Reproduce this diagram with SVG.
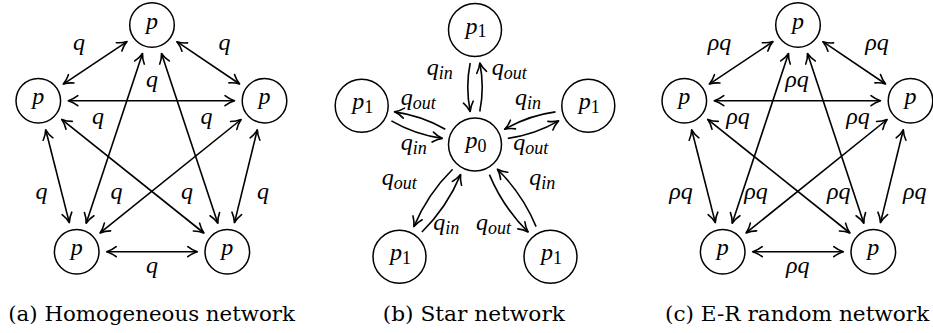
<svg xmlns="http://www.w3.org/2000/svg" width="933" height="333" viewBox="0 0 933 333">
<style>
.n{fill:#fff;stroke:#000;stroke-width:1.5}
.e{fill:none;stroke:#000;stroke-width:1.6;marker-end:url(#ah)}
.d{marker-start:url(#ah)}
.c{text-anchor:middle}
.m{font-family:"Liberation Serif","Times New Roman",serif;font-style:italic;font-size:24px;fill:#000}
.s{font-size:18px}
.u{font-style:normal;font-size:18px}
.cap{font-family:"DejaVu Serif","Liberation Serif",serif;font-size:19.5px;fill:#000}
</style>
<defs>
<marker id="ah" markerUnits="userSpaceOnUse" markerWidth="14" markerHeight="14" viewBox="-12 -7 14 14" refX="0" refY="0" orient="auto-start-reverse" overflow="visible">
<path d="M-9.5,-5 C-6,-2.2 -2,-0.6 0,0 C-2,0.6 -6,2.2 -9.5,5" fill="none" stroke="#000" stroke-width="1.6" stroke-linecap="round" stroke-linejoin="round"/>
</marker>
</defs>
<rect width="933" height="333" fill="#fff"/>

<g id="connectors">
<g id="edges-a">
<line class="e d" x1="127.0" y1="41.6" x2="63.3" y2="84.1"/>
<line class="e d" x1="176.9" y1="41.7" x2="239.6" y2="84.0"/>
<line class="e d" x1="68.3" y1="100.7" x2="234.5" y2="100.7"/>
<line class="e d" x1="142.5" y1="53.5" x2="86.2" y2="223.2"/>
<line class="e d" x1="161.5" y1="53.5" x2="217.8" y2="223.2"/>
<line class="e d" x1="45.7" y1="129.8" x2="69.3" y2="222.6"/>
<line class="e d" x1="257.3" y1="129.8" x2="234.5" y2="222.6"/>
<line class="e d" x1="61.7" y1="119.4" x2="203.9" y2="233.0"/>
<line class="e d" x1="241.1" y1="119.5" x2="100.1" y2="232.9"/>
<line class="e d" x1="106.7" y1="251.7" x2="197.3" y2="251.7"/>
</g>
<g id="edges-b">
<path class="e" d="M470.2,63 Q465.3,87.25 470.2,111.5"/>
<path class="e" d="M479.8,111.5 Q484.7,87.25 479.8,63"/>
<path class="e" d="M445.3,129.3 Q421.6,115.5 394.5,111.85"/>
<path class="e" d="M391.4,120.9 Q415.1,134.7 442.2,138.35"/>
<path class="e" d="M507.8,138.35 Q534.9,134.7 558.6,120.9"/>
<path class="e" d="M555.5,111.85 Q528.4,115.5 504.7,129.3"/>
<path class="e" d="M452.6,169.2 Q427.5,194.0 413.9,226.6"/>
<path class="e" d="M421.9,232.0 Q447.0,207.2 460.6,174.6"/>
<path class="e" d="M489.4,174.6 Q503.0,207.2 528.1,232.0"/>
<path class="e" d="M536.1,226.6 Q522.5,194.0 497.4,169.2"/>
</g>
<g id="edges-c">
<line class="e d" x1="773.0" y1="41.6" x2="709.3" y2="84.1"/>
<line class="e d" x1="822.9" y1="41.7" x2="885.6" y2="84.0"/>
<line class="e d" x1="714.3" y1="100.7" x2="880.5" y2="100.7"/>
<line class="e d" x1="788.5" y1="53.5" x2="732.2" y2="223.2"/>
<line class="e d" x1="807.5" y1="53.5" x2="863.8" y2="223.2"/>
<line class="e d" x1="691.7" y1="129.8" x2="715.3" y2="222.6"/>
<line class="e d" x1="903.3" y1="129.8" x2="880.5" y2="222.6"/>
<line class="e d" x1="707.7" y1="119.4" x2="849.9" y2="233.0"/>
<line class="e d" x1="887.1" y1="119.5" x2="746.1" y2="232.9"/>
<line class="e d" x1="752.7" y1="251.7" x2="843.3" y2="251.7"/>
</g>
<g id="edge-labels-a" class="m c">
<text x="79" y="50">q</text>
<text x="224.5" y="50">q</text>
<text x="152" y="87">q</text>
<text x="98" y="124">q</text>
<text x="206.5" y="124">q</text>
<text x="41.5" y="198.5">q</text>
<text x="116.5" y="198.5">q</text>
<text x="187" y="199">q</text>
<text x="263" y="199">q</text>
<text x="152" y="272.5">q</text>
</g>
<g id="edge-labels-b" class="m">
<text x="426.7" y="75">q<tspan class="s" dy="3.5">in</tspan></text>
<text x="491.7" y="75">q<tspan class="s" dy="3.5">out</tspan></text>
<text x="400.7" y="105">q<tspan class="s" dy="3.5">out</tspan></text>
<text x="515" y="105">q<tspan class="s" dy="3.5">in</tspan></text>
<text x="400.7" y="150">q<tspan class="s" dy="3.5">in</tspan></text>
<text x="513.3" y="150">q<tspan class="s" dy="3.5">out</tspan></text>
<text x="381.7" y="185">q<tspan class="s" dy="3.5">out</tspan></text>
<text x="529.3" y="185">q<tspan class="s" dy="3.5">in</tspan></text>
<text x="433.3" y="230">q<tspan class="s" dy="3.5">in</tspan></text>
<text x="476" y="230">q<tspan class="s" dy="3.5">out</tspan></text>
</g>
<g id="edge-labels-c" class="m c">
<text x="719.5" y="50">ρq</text>
<text x="877" y="50">ρq</text>
<text x="797" y="87">ρq</text>
<text x="738" y="124">ρq</text>
<text x="858" y="124">ρq</text>
<text x="681" y="198.5">ρq</text>
<text x="756" y="198.5">ρq</text>
<text x="838.7" y="199">ρq</text>
<text x="914.7" y="199">ρq</text>
<text x="797.7" y="272.5">ρq</text>
</g>
</g>

<g class="m c">
<g id="a-top"><circle class="n" cx="152" cy="25" r="22.3"/><text x="152" y="28.5">p</text></g>
<g id="a-left"><circle class="n" cx="38.3" cy="100.7" r="22.3"/><text x="38.3" y="104.2">p</text></g>
<g id="a-right"><circle class="n" cx="264.5" cy="100.7" r="22.3"/><text x="264.5" y="104.2">p</text></g>
<g id="a-bottom-left"><circle class="n" cx="76.7" cy="251.7" r="22.3"/><text x="76.7" y="255.2">p</text></g>
<g id="a-bottom-right"><circle class="n" cx="227.3" cy="251.7" r="22.3"/><text x="227.3" y="255.2">p</text></g>

<g id="b-center"><circle class="n" cx="475" cy="144.5" r="26.5"/><text x="476" y="148">p<tspan class="u" dy="3.5">0</tspan></text></g>
<g id="b-top"><circle class="n" cx="475" cy="30" r="26.5"/><text x="476" y="33.5">p<tspan class="u" dy="3.5">1</tspan></text></g>
<g id="b-left"><circle class="n" cx="361.7" cy="105.7" r="26.5"/><text x="362.7" y="109.2">p<tspan class="u" dy="3.5">1</tspan></text></g>
<g id="b-right"><circle class="n" cx="588.3" cy="105.7" r="26.5"/><text x="589.3" y="109.2">p<tspan class="u" dy="3.5">1</tspan></text></g>
<g id="b-bottom-left"><circle class="n" cx="399.5" cy="256.7" r="26.5"/><text x="400.5" y="260.2">p<tspan class="u" dy="3.5">1</tspan></text></g>
<g id="b-bottom-right"><circle class="n" cx="550.5" cy="256.7" r="26.5"/><text x="551.5" y="260.2">p<tspan class="u" dy="3.5">1</tspan></text></g>

<g id="c-top"><circle class="n" cx="798" cy="25" r="22.3"/><text x="798" y="28.5">p</text></g>
<g id="c-left"><circle class="n" cx="684.3" cy="100.7" r="22.3"/><text x="684.3" y="104.2">p</text></g>
<g id="c-right"><circle class="n" cx="910.5" cy="100.7" r="22.3"/><text x="910.5" y="104.2">p</text></g>
<g id="c-bottom-left"><circle class="n" cx="722.7" cy="251.7" r="22.3"/><text x="722.7" y="255.2">p</text></g>
<g id="c-bottom-right"><circle class="n" cx="873.3" cy="251.7" r="22.3"/><text x="873.3" y="255.2">p</text></g>
</g>

<g id="captions" class="cap">
<text x="8.3" y="321" textLength="286.7" lengthAdjust="spacingAndGlyphs">(a) Homogeneous network</text>
<text x="382.7" y="321" textLength="182.3" lengthAdjust="spacingAndGlyphs">(b) Star network</text>
<text x="665" y="321" textLength="264.3" lengthAdjust="spacingAndGlyphs">(c) E-R random network</text>
</g>
</svg>
